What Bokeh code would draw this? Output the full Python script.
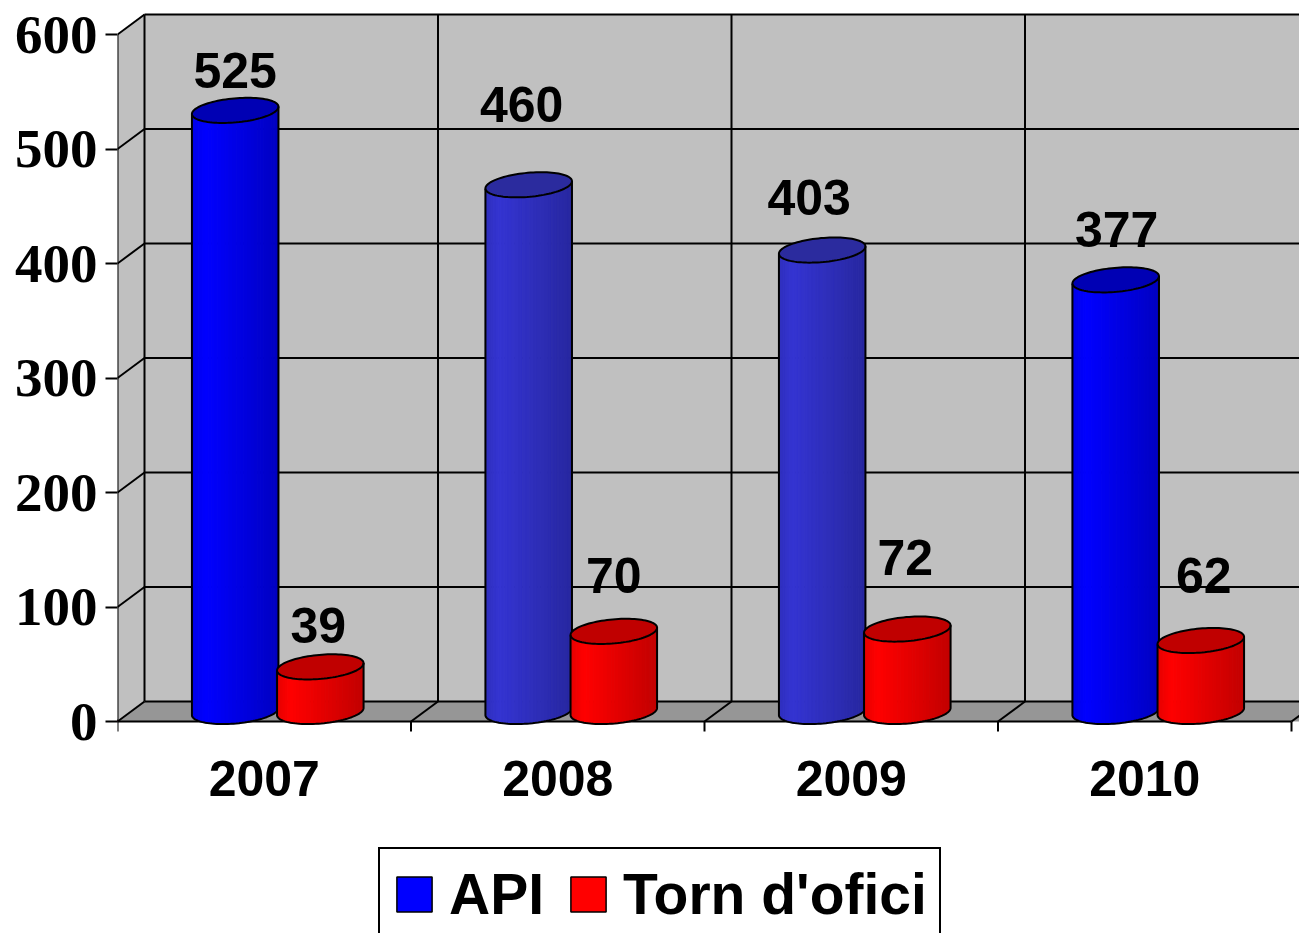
import numpy as np
from bokeh.plotting import figure
from bokeh.models import Range1d, FixedTicker, Legend, LegendItem, ColumnDataSource
from bokeh.core.properties import value
from bokeh.embed import file_html
from bokeh.resources import INLINE

# ---------------- data ----------------
years = ["2007", "2008", "2009", "2010"]
api_values = [525, 460, 403, 377]
torn_values = [39, 70, 72, 62]
series_labels = ["API", "Torn d'ofici"]
y_ticks = [0, 100, 200, 300, 400, 500, 600]
y_max = 600

# ---------------- layout / style ----------------
W, H = 1299, 933
LEFT = 117
n_cat = len(years)
CAT_PX = 293.5
SY = 1.145
X0, X1 = 0.0, (W - LEFT) / CAT_PX
Y1 = 721 / SY
Y0 = -(H - 721) / SY
SX = CAT_PX
DX = 27 / SX                     # depth offset (x)
DY = 20 / SY                     # depth offset (y)
BAR_W = 0.296
BAR_SHIFT = 0.145
ELL_B = 12.0
ELL_PHI = 0.09

WALL = "#C0C0C0"
FLOOR = "#969696"
api_side = ["#0000FF", "#3434D2", "#3434D2", "#0000FF"]
api_top = ["#0000B4", "#2B2B9E", "#2B2B9E", "#0000B4"]
torn_side = ["#FF0000", "#FF0000", "#FF0000", "#FF0000"]
torn_top = ["#C00000", "#C00000", "#C00000", "#C00000"]
api_lift = [40, 80, 53, 50]
api_xoff = [0, -7, -13, 1]
torn_lift = [41, 56, 72, 65]
torn_xoff = [-2, 0, -2, 3]

p = figure(width=W, height=H, x_range=Range1d(X0, X1), y_range=Range1d(Y0, Y1),
           output_backend="svg", toolbar_location=None, x_axis_location=None,
           min_border_left=LEFT, min_border_right=0, min_border_top=0, min_border_bottom=0,
           outline_line_color=None, background_fill_color="white", border_fill_color="white")
p.grid.visible = False

ax = p.yaxis[0]
ax.ticker = FixedTicker(ticks=y_ticks, minor_ticks=[])
ax.axis_line_color = None
ax.major_tick_out = 12
ax.major_tick_in = 0
ax.major_tick_line_width = 2
ax.major_tick_line_color = "black"
ax.major_label_standoff = 8
ax.major_label_text_font = "Liberation Serif"
ax.major_label_text_font_style = "bold"
ax.major_label_text_font_size = "55px"
ax.major_label_text_color = "black"

# walls and floor
p.patch([X0, X0 + DX, X0 + DX, X0], [0, DY, y_max + DY, y_max], fill_color=WALL, line_color=None)
p.patch([X0 + DX, X1 + DX, X1 + DX, X0 + DX], [DY, DY, y_max + DY, y_max + DY], fill_color=WALL, line_color=None)
p.patch([X0, X0 + DX, X1 + DX, X1], [0, DY, DY, 0], fill_color=FLOOR, line_color=None)

sx0, sy0, sx1, sy1 = [], [], [], []
for v in y_ticks:
    sx0 += [X0 + DX, X0]; sy0 += [v + DY, v]
    sx1 += [X1 + DX, X0 + DX]; sy1 += [v + DY, v + DY]
for k in range(n_cat):
    sx0.append(k + DX); sy0.append(DY); sx1.append(k + DX); sy1.append(y_max + DY)
for k in range(1, n_cat + 1):
    sx0.append(k); sy0.append(0); sx1.append(k + DX); sy1.append(DY)
for k in range(n_cat + 1):
    sx0.append(k); sy0.append(0); sx1.append(k); sy1.append(-10 / SY)
sx0 += [X0, X0]; sy0 += [0, 0]; sx1 += [X0, n_cat]; sy1 += [y_max, 0]
p.segment(x0=sx0, y0=sy0, x1=sx1, y1=sy1, line_color="black", line_width=2)


def shade(hexcol, k):
    r, g, b = int(hexcol[1:3], 16), int(hexcol[3:5], 16), int(hexcol[5:7], 16)
    return "#%02X%02X%02X" % tuple(int(max(0, min(255, round(c * k)))) for c in (r, g, b))


def bright(f):
    if f < 0.15:
        return 0.9 + 0.1 * f / 0.15
    return 1.0 - 0.24 * (f - 0.15) / 0.85


def cylinder(cx, base, top, side_col, top_col):
    a = BAR_W / 2 * SX

    def ell(t, yc):
        t = np.asarray(t, dtype=float)
        X = a * np.cos(t) * np.cos(ELL_PHI) - ELL_B * np.sin(t) * np.sin(ELL_PHI)
        Y = a * np.cos(t) * np.sin(ELL_PHI) + ELL_B * np.sin(t) * np.cos(ELL_PHI)
        return cx + X / SX, yc + Y / SY

    N = 36
    edges = np.linspace(np.pi, 2 * np.pi, N + 1)
    xs, ys, cols = [], [], []
    for i in range(N):
        tt = np.linspace(edges[i], edges[i + 1], 3)
        xt, yt = ell(tt, top)
        xb, yb = ell(tt[::-1], base)
        xs.append(list(np.r_[xt, xb])); ys.append(list(np.r_[yt, yb]))
        f = (np.cos(tt[1]) + 1) / 2
        cols.append(shade(side_col, bright(f)))
    p.patches(xs=xs, ys=ys, fill_color=cols, line_color=cols, line_width=1)
    tt = np.linspace(0, 2 * np.pi, 97)
    xt, yt = ell(tt, top)
    p.patch(list(xt), list(yt), fill_color=top_col, line_color="black", line_width=2)
    tb = np.linspace(np.pi, 2 * np.pi, 49)
    xb, yb = ell(tb, base)
    xl, yl = ell([np.pi], top)
    xr, yr = ell([2 * np.pi], top)
    p.line(list(np.r_[xl, xb, xr]), list(np.r_[yl, yb, yr]), line_color="black", line_width=2)


api_x = [k + 0.5 + DX / 2 - BAR_SHIFT for k in range(n_cat)]
torn_x = [k + 0.5 + DX / 2 + BAR_SHIFT for k in range(n_cat)]
for k in range(n_cat):
    cylinder(api_x[k], DY / 2, api_values[k] + DY / 2, api_side[k], api_top[k])
    cylinder(torn_x[k], DY / 2, torn_values[k] + DY / 2, torn_side[k], torn_top[k])

# value labels
lab = ColumnDataSource(dict(
    x=api_x + torn_x,
    y=[v + DY / 2 for v in api_values + torn_values],
    text=[str(v) for v in api_values + torn_values],
    xo=api_xoff + torn_xoff,
    yo=[-l for l in api_lift + torn_lift],
))
p.text(x="x", y="y", text="text", x_offset="xo", y_offset="yo", source=lab,
       text_font=value("Liberation Sans"), text_font_style="bold", text_font_size="50px",
       text_align="center", text_baseline="middle", text_color="black")

# category labels
p.text(x=[k + 0.5 for k in range(n_cat)], y=[-50 for _ in years], text=years,
       text_font=value("Liberation Sans"), text_font_style="bold", text_font_size="50px",
       text_align="center", text_baseline="middle", text_color="black")

# legend (swatch renderers sit outside the visible range)
r_api = p.vbar(x=[-10.0], top=[1.0], width=0.1, fill_color="#0000FF", line_color="black", line_width=1.5)
r_torn = p.vbar(x=[-10.0], top=[1.0], width=0.1, fill_color="#FF0000", line_color="black", line_width=1.5)
legend = Legend(items=[LegendItem(label=series_labels[0], renderers=[r_api]),
                       LegendItem(label=series_labels[1], renderers=[r_torn])],
                orientation="horizontal", location=(261, -8), margin=0, padding=12,
                spacing=22, label_standoff=13, glyph_width=44, glyph_height=44,
                label_text_font="Liberation Sans", label_text_font_style="bold",
                label_text_font_size="57px", label_text_color="black",
                border_line_color="black", border_line_width=2, border_line_alpha=1.0,
                background_fill_color="white", background_fill_alpha=1.0)
p.add_layout(legend)

open("out.html", "w").write(file_html(p, INLINE))
